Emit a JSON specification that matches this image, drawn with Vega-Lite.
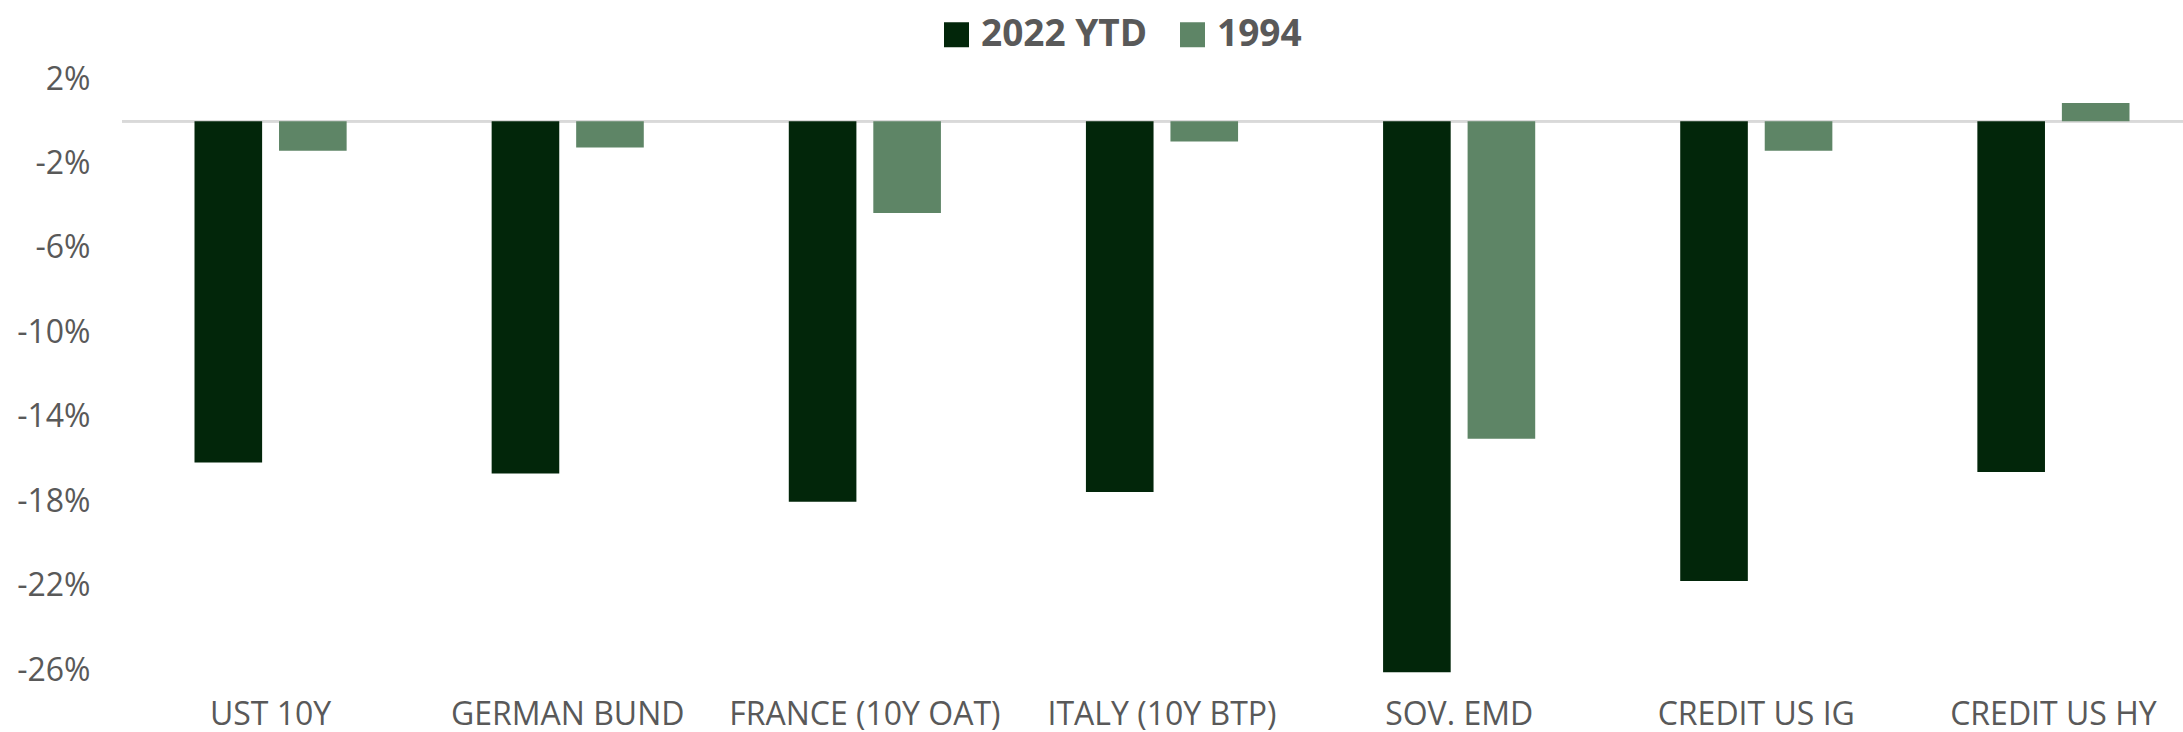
{
  "$schema": "https://vega.github.io/schema/vega-lite/v6.json",
  "width": 2080,
  "height": 591,
  "autosize": {"type": "none"},
  "padding": {"left": 122, "top": 79, "right": 0, "bottom": 62},
  "background": "white",
  "config": {
    "view": {"stroke": null},
    "font": "Open Sans"
  },
  "data": {
    "values": [
      {"category": "UST 10Y", "series": "2022 YTD", "value": -16.17},
      {"category": "UST 10Y", "series": "1994", "value": -1.40},
      {"category": "GERMAN BUND", "series": "2022 YTD", "value": -16.69},
      {"category": "GERMAN BUND", "series": "1994", "value": -1.24},
      {"category": "FRANCE (10Y OAT)", "series": "2022 YTD", "value": -18.03},
      {"category": "FRANCE (10Y OAT)", "series": "1994", "value": -4.35},
      {"category": "ITALY (10Y BTP)", "series": "2022 YTD", "value": -17.57},
      {"category": "ITALY (10Y BTP)", "series": "1994", "value": -0.96},
      {"category": "SOV. EMD", "series": "2022 YTD", "value": -26.11},
      {"category": "SOV. EMD", "series": "1994", "value": -15.04},
      {"category": "CREDIT US IG", "series": "2022 YTD", "value": -21.78},
      {"category": "CREDIT US IG", "series": "1994", "value": -1.40},
      {"category": "CREDIT US HY", "series": "2022 YTD", "value": -16.62},
      {"category": "CREDIT US HY", "series": "1994", "value": 0.86}
    ]
  },
  "layer": [
    {
      "mark": {"type": "rule", "color": "#D9D9D9", "strokeWidth": 2},
      "encoding": {"y": {"datum": 0, "type": "quantitative"}}
    },
    {
      "mark": {"type": "bar"},
      "encoding": {
        "x": {
          "field": "category",
          "type": "nominal",
          "sort": ["UST 10Y", "GERMAN BUND", "FRANCE (10Y OAT)", "ITALY (10Y BTP)", "SOV. EMD", "CREDIT US IG", "CREDIT US HY"],
          "scale": {"paddingInner": 0.488, "paddingOuter": 0.244},
          "axis": {
            "title": null,
            "orient": "bottom",
            "labelAngle": 0,
            "labelFontSize": 32,
            "labelColor": "#595959",
            "labelFont": "Open Sans",
            "labelPadding": 29,
            "labelLimit": 0,
            "labelOverlap": false,
            "ticks": false,
            "domain": false,
            "grid": false
          }
        },
        "xOffset": {
          "field": "series",
          "type": "nominal",
          "sort": ["2022 YTD", "1994"],
          "scale": {"paddingInner": 0.2, "paddingOuter": 0}
        },
        "y": {
          "field": "value",
          "type": "quantitative",
          "scale": {"domain": [-26, 2], "nice": false, "zero": false},
          "axis": {
            "title": null,
            "values": [2, -2, -6, -10, -14, -18, -22, -26],
            "labelExpr": "datum.value + '%'",
            "labelFontSize": 32,
            "labelColor": "#595959",
            "labelFont": "Open Sans",
            "labelPadding": 32,
            "labelLimit": 0,
            "ticks": false,
            "domain": false,
            "grid": false
          }
        },
        "color": {
          "field": "series",
          "type": "nominal",
          "sort": ["2022 YTD", "1994"],
          "scale": {"domain": ["2022 YTD", "1994"], "range": ["#02260A", "#5E8566"]},
          "legend": {
            "title": null,
            "orient": "none",
            "direction": "horizontal",
            "legendX": 816,
            "legendY": -63,
            "symbolType": "square",
            "symbolSize": 625,
            "symbolStrokeWidth": 0,
            "labelFontSize": 37,
            "labelFontWeight": "bold",
            "labelColor": "#595959",
            "labelFont": "Open Sans",
            "labelOffset": 6,
            "labelLimit": 0,
            "columnPadding": 26
          }
        }
      }
    }
  ]
}
